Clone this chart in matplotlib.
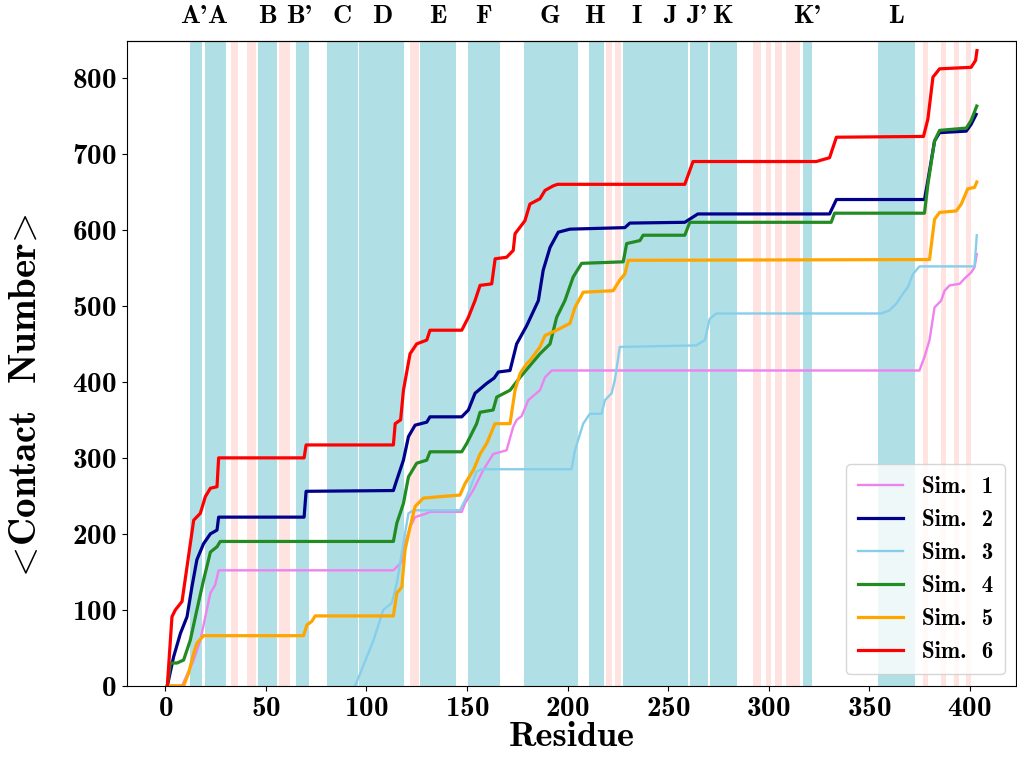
import matplotlib
matplotlib.use("Agg")
import matplotlib.pyplot as plt

plt.rcParams['font.family'] = 'cmb10'
plt.rcParams['mathtext.fontset'] = 'cm'
plt.rcParams['axes.formatter.use_mathtext'] = True

# structural elements along the sequence (residue ranges)
helix_spans = [(12.5, 18.3), (19.5, 30.2), (46.2, 55.3), (64.8, 71.2), (80.5, 95.6),
               (96.5, 118.5), (126.5, 144.5), (150.7, 166.3), (178.4, 205.3), (210.8, 218.0),
               (227.7, 259.8), (260.8, 269.8), (270.7, 284.3), (316.9, 321.8), (354.4, 372.6)]
loop_spans = [(32.5, 36.3), (40.6, 45.2), (56.6, 62.2), (121.8, 126.3), (219.0, 222.3),
              (223.5, 226.8), (292.2, 296.4), (298.5, 301.4), (303.0, 306.4), (308.5, 315.5),
              (376.7, 379.2), (385.8, 388.0), (392.4, 394.9), (398.0, 400.7)]
seg_labels = ["A'", "A", "B", "B'", "C", "D", "E", "F", "G", "H", "I", "J", "J'", "K", "K'", "L"]
seg_pos = [14.0, 25.8, 50.7, 66.5, 88, 107.8, 135.6, 158, 191, 213.6, 234.5, 250.9, 264.0, 277.0, 319, 363.6]

# cumulative contact number per simulation
res1 = [1, 8.3, 14.1, 17.4, 19.9, 22.4, 24.8, 26.5, 113.4, 117.6, 119.2, 121.7, 124.2, 130, 131.6,
        147.4, 149, 153.2, 158.1, 163, 169.7, 173, 174.7, 177.2, 180.5, 186.3, 188.8, 192.1, 375,
        377.5, 380, 382.5, 385.8, 387.5, 390, 395, 397.4, 400.7, 402.4, 403.5]
cn1 = [0, 0, 34, 60, 91, 122, 133, 152, 152, 163, 187, 209, 222, 227, 229,
       229, 240, 258, 284, 305, 310, 341, 350, 355, 376, 389, 406, 415, 415,
       433, 455, 498, 507, 520, 527, 529, 536, 544, 551, 568]

res2 = [1, 4.1, 7.5, 10.8, 13.2, 15.7, 19, 22.4, 25.7, 26.5, 69, 70, 113.4, 115.1, 118.4, 120.9,
        124.2, 130, 131.6, 147.4, 150.7, 154, 159.8, 163.5, 165.6, 171.4, 174.7, 179.7, 185.5,
        187.9, 191.3, 195.4, 201.2, 228.5, 231, 258.3, 264.8, 330.3, 333.7, 377.5, 379.2, 382.5,
        385, 398.3, 400.7, 403.2]
cn2 = [0, 38, 69, 91, 130, 166, 187, 200, 205, 222, 222, 256, 257, 271, 297, 328,
       343, 347, 354, 354, 363, 385, 398, 405, 413, 415, 450, 474, 507,
       547, 577, 597, 601, 603, 609, 610, 621, 621, 640, 640, 665, 717,
       728, 730, 739, 752]

res3 = [94.4, 100.2, 103.5, 108.4, 112.6, 115.1, 118.4, 120.9, 123.4, 146.5, 149.9, 154.8, 157.3,
        202, 203.7, 207.8, 211.1, 216.9, 218.6, 221.9, 223.5, 226, 264, 268.3, 270.7, 274, 356,
        360, 363.5, 366.8, 369.3, 371.8, 375, 402.4, 403.5]
cn3 = [0, 38, 60, 100, 109, 135, 188, 227, 231, 231, 249, 282, 285,
       285, 310, 345, 358, 358, 376, 385, 402, 446, 448, 455, 483, 490, 490,
       494, 503, 516, 525, 542, 552, 552, 593]

res4 = [1, 2.5, 5.8, 9.1, 12.4, 15.7, 19, 22.4, 25.7, 27.3, 113.4, 115.1, 118.4, 120.9, 125, 130,
        131.6, 147.4, 149.9, 154.8, 156.5, 163, 164.8, 171.4, 176.4, 186.3, 191.3, 194.6, 198.7,
        202.8, 207, 227.7, 229.4, 236, 237.6, 258.3, 260.8, 331.1, 332.8, 377.5, 379.2, 382.5,
        385, 398.3, 400.7, 403.5]
cn4 = [0, 30, 30, 34, 60, 100, 139, 176, 183, 190, 190, 214, 240, 275, 293, 297,
       308, 308, 319, 345, 360, 363, 380, 389, 406, 437, 450, 485, 507,
       538, 556, 558, 582, 586, 593, 593, 610, 610, 622, 622, 660, 717,
       731, 734, 744, 763]

res5 = [1, 9.1, 11.6, 14.1, 15.7, 19, 68.7, 70.4, 72.9, 74.5, 113.4, 115.1, 117.6, 119.2, 121.7,
        124.2, 128.3, 136.6, 146.5, 149, 153.2, 156.5, 160, 163.9, 171.4, 173.9, 176.4, 179.7,
        181.3, 186.3, 188.8, 194.6, 201.2, 203.7, 207.8, 222.7, 226, 228.5, 230.2, 380, 382.5,
        385, 393.3, 395.8, 399, 402.4, 403.5]
cn5 = [0, 0, 17, 43, 56, 66, 66, 80, 85, 92, 92, 122, 130, 179, 209,
       236, 247, 249, 251, 266, 284, 305, 320, 345, 345, 389, 411, 424,
       428, 446, 461, 468, 477, 498, 518, 520, 534, 542, 560, 561, 614,
       623, 625, 634, 654, 656, 663]

res6 = [1, 2, 3.3, 5, 8.3, 10.8, 14.1, 17.4, 19.9, 22.4, 25.7, 26.5, 69, 70, 113.4, 114.3, 117,
        118.4, 121.7, 125, 130, 131.6, 147.4, 150.7, 154, 156.5, 162.3, 164, 169.7, 173, 173.9,
        178.8, 181.3, 186.3, 188.8, 192.9, 195, 258.3, 262.4, 323.7, 330.3, 333.7, 377, 379.2,
        381.7, 385, 400.7, 402.9, 403.6]
cn6 = [0, 40, 91, 100, 111, 157, 218, 227, 249, 260, 262, 300, 300, 317, 317, 345, 350,
       389, 437, 450, 455, 468, 468, 485, 507, 527, 529, 562, 564, 573, 595,
       612, 634, 641, 652, 658, 660, 660, 690, 690, 695, 722, 723, 746,
       801, 812, 814, 823, 836]

series = [(res1, cn1, 'violet', 1.7), (res2, cn2, 'darkblue', 2.3), (res3, cn3, 'skyblue', 1.7),
          (res4, cn4, 'forestgreen', 2.3), (res5, cn5, 'orange', 2.3), (res6, cn6, 'red', 2.3)]

fig = plt.figure(figsize=(10.17, 7.68), dpi=100)
ax = fig.add_axes([0.125, 0.107, 0.874, 0.84])

for a, b in helix_spans:
    ax.axvspan(a, b, color='powderblue', lw=0, zorder=0)
for a, b in loop_spans:
    ax.axvspan(a, b, color='#ffe3e0', lw=0, zorder=0)

for i, (x, y, c, w) in enumerate(series):
    ax.plot(x, y, color=c, lw=w, label='Sim.  %d' % (i + 1))

ax.set_xlim(-19, 423)
ax.set_ylim(0, 849)
ax.set_xticks(range(0, 401, 50))
ax.set_yticks(range(0, 801, 100))
ax.tick_params(labelsize=21, pad=4)
ax.set_xlabel('Residue', fontsize=26, labelpad=0)
ax.set_ylabel(r'$\!<\!$Contact  Number$\!>\!$', fontsize=28)
ax.yaxis.set_label_coords(-0.094, 0.45)

top = ax.secondary_xaxis('top')
top.set_xticks(seg_pos)
top.set_xticklabels(seg_labels, fontsize=19)
top.tick_params(length=0, pad=9)

ax.legend(loc='lower right', fontsize=16.5, handlelength=2.0, borderpad=0.5,
          labelspacing=0.48, handletextpad=0.8)

fig.savefig('out.png', dpi=100)
